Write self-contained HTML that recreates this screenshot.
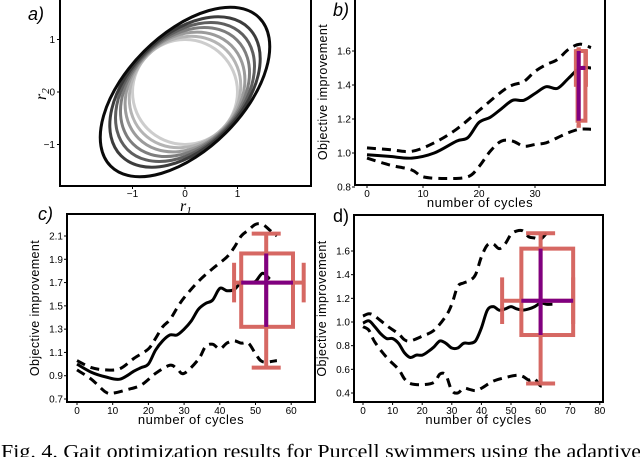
<!DOCTYPE html>
<html><head><meta charset="utf-8"><style>
body{margin:0;background:#fff;}
svg{display:block;font-family:"Liberation Sans",sans-serif;}
</style></head><body>
<svg id="s" width="640" height="457" viewBox="0 0 640 457">
<text x="1" y="458" font-family="Liberation Serif,serif" font-size="20" textLength="640" lengthAdjust="spacingAndGlyphs">Fig. 4.   Gait optimization results for Purcell swimmers using the adaptive</text>
</svg>
<script>
// ---- data ----
const ringA=[1.0,1.12,1.25,1.4,1.55,1.72,2.0];
const ringB=[1.0,1.0,1.02,1.03,1.05,1.07,1.1];
const ringGray=[205,180,155,125,95,60,10];

const bX=[0,4,8,12,16,18,20,22,24,26,28,30,32,34,36,38,40];
const bMean=[0.99,0.98,0.97,1.0,1.07,1.09,1.18,1.21,1.26,1.31,1.31,1.35,1.39,1.38,1.44,1.5,1.5];
const bUpX=[0,4,8,12,16,20,24,26,28,30,32,34,36,38,40];
const bUp=[1.03,1.02,1.01,1.06,1.14,1.25,1.36,1.4,1.42,1.48,1.52,1.55,1.61,1.64,1.62];
const bLoX=[0,4,8,10,14,18,20,22,24,26,28,30,32,34,36,38,40];
const bLo=[0.97,0.93,0.9,0.86,0.85,0.86,0.92,1.01,1.07,1.07,1.04,1.05,1.06,1.09,1.12,1.14,1.14];

const cX=[0,4,8,12,16,18,20,22,24,26,28,30,32,34,36,38,40,42,44,46,48,50,52,54];
const cMean=[1.0,0.93,0.89,0.87,0.94,0.97,1.0,1.12,1.2,1.25,1.25,1.3,1.37,1.47,1.52,1.55,1.65,1.63,1.64,1.7,1.7,1.71,1.78,1.73];
const cUpX=[0,4,8,12,16,20,22,24,26,28,30,34,38,42,44,46,48,50,52,54,56];
const cUp=[1.03,0.97,0.95,0.96,1.05,1.13,1.22,1.32,1.38,1.48,1.57,1.71,1.82,1.92,2.0,2.1,2.15,2.2,2.2,2.15,2.1];
const cLoX=[0,4,8,10,14,18,22,26,28,30,34,36,38,40,42,44,46,48,50,52,56];
const cLo=[0.95,0.87,0.76,0.75,0.78,0.82,0.92,0.99,0.96,0.92,1.04,1.15,1.17,1.13,1.18,1.2,1.18,1.18,1.09,1.02,1.03];

const dX=[0,2,4,6,8,10,12,14,16,18,20,22,24,26,28,30,32,34,36,38,40,42,44,46,48,50,52,54,56,58,60,62,64];
const dMean=[0.99,1.01,0.96,0.9,0.86,0.86,0.82,0.74,0.7,0.72,0.72,0.75,0.79,0.84,0.82,0.78,0.78,0.82,0.82,0.84,0.95,1.1,1.13,1.1,1.11,1.13,1.11,1.1,1.11,1.13,1.16,1.15,1.15];
const dUpX=[0,2,4,8,12,14,16,20,24,28,30,32,34,36,38,40,42,44,46,48,50,52,54,56,58,60,62];
const dUp=[1.05,1.07,1.05,0.97,0.9,0.85,0.84,0.88,0.93,1.05,1.15,1.3,1.33,1.35,1.4,1.55,1.65,1.66,1.62,1.66,1.74,1.77,1.77,1.72,1.71,1.7,1.75];
const dLoX=[0,2,4,8,12,14,16,20,24,26,28,30,32,34,36,38,40,44,48,52,54,56,58,60,62];
const dLo=[0.96,0.93,0.83,0.7,0.6,0.52,0.48,0.47,0.49,0.56,0.55,0.42,0.4,0.44,0.43,0.42,0.44,0.5,0.53,0.55,0.54,0.51,0.52,0.46,0.48];

// box stats: [x, q1, q3, min, max, xLo, xHi, median, boxX0, boxX1]
const bBox=[37.8,1.19,1.6,1.16,1.61,37.3,39.1,1.5,37.6,39.0];
const cBox=[53,1.32,1.95,0.97,2.12,44,63.5,1.7,46,60.5];
const dBox=[60,0.89,1.62,0.48,1.75,47,71,1.18,53.5,71];

const ticksBX=[0,10,20,30], ticksBY=[0.8,1.0,1.2,1.4,1.6];
const ticksCX=[0,10,20,30,40,50,60], ticksCY=[0.7,0.9,1.1,1.3,1.5,1.7,1.9,2.1];
const ticksDX=[0,10,20,30,40,50,60,70,80], ticksDY=[0.4,0.6,0.8,1.0,1.2,1.4,1.6];

// ---- drawing ----
const S=document.getElementById('s'), NS='http://www.w3.org/2000/svg';
function el(t,a,p){const e=document.createElementNS(NS,t);for(const k in a)e.setAttribute(k,a[k]);(p||S).appendChild(e);return e;}
function lin(d0,d1,p0,p1){return v=>p0+(v-d0)*(p1-p0)/(d1-d0);}
function smooth(pts){let d='M'+pts[0][0]+','+pts[0][1];for(let i=0;i<pts.length-1;i++){const p0=pts[Math.max(0,i-1)],p1=pts[i],p2=pts[i+1],p3=pts[Math.min(pts.length-1,i+2)];d+=' C'+(p1[0]+(p2[0]-p0[0])/6)+','+(p1[1]+(p2[1]-p0[1])/6)+' '+(p2[0]-(p3[0]-p1[0])/6)+','+(p2[1]-(p3[1]-p1[1])/6)+' '+p2[0]+','+p2[1];}return d;}

// panel a
const ga=el('g',{});


const ax=lin(0,1,185,237.5), ay=lin(0,1,92,39.5);
for(let i=0;i<ringA.length;i++){
  const c=ringGray[i];
  const e=el('ellipse',{cx:ax(0),cy:ay(0),rx:ringA[i]*52.5,ry:ringB[i]*52.5,transform:`rotate(-45 ${ax(0)} ${ay(0)})`,fill:'none',stroke:`rgb(${c},${c},${c})`,'stroke-width':3},ga);
  
  
}
el('rect',{x:60,y:-1,width:251,height:187,fill:'none',stroke:'#000','stroke-width':2},ga);
[-1,0,1].forEach(v=>{
  el('line',{x1:ax(v),x2:ax(v),y1:186,y2:189,stroke:'#000'},ga);
  const t=el('text',{x:ax(v),y:197,'font-size':10,'text-anchor':'middle'},ga);t.textContent=v<0?'\u22121':v;
  el('line',{x1:57,x2:60,y1:ay(v),y2:ay(v),stroke:'#000'},ga);
  const u=el('text',{x:55,y:ay(v)+3.5,'font-size':10,'text-anchor':'end'},ga);u.textContent=v<0?'\u22121':v;
});
const la=el('text',{x:28,y:20,'font-size':18,'font-style':'italic'},ga);la.textContent='a)';
const r1=el('text',{x:180,y:211,'font-size':16,'font-family':'Liberation Serif,serif','font-style':'italic'},ga);r1.innerHTML='r<tspan font-size="11" dy="3">1</tspan>';
const r2=el('text',{x:0,y:0,'font-size':16,'font-family':'Liberation Serif,serif','font-style':'italic',transform:'translate(46,100) rotate(-90)'},ga);r2.innerHTML='r<tspan font-size="11" dy="3">2</tspan>';

function panel(name,frame,xd,xp,yd,yp,tx,ty,series,box,label,lx,ly){
  const g=el('g',{});
  
  
  const X=lin(xd[0],xd[1],xp[0],xp[1]), Y=lin(yd[0],yd[1],yp[0],yp[1]);
  series.forEach(s=>{
    const p=el('path',{d:smooth(s.x.map((v,i)=>[X(v),Y(s.y[i])])),fill:'none',stroke:'#000','stroke-width':3,'stroke-linecap':'butt','stroke-dasharray':s.dash?'9,6':'none'},g);
    
    
  });
  const [bx,q1,q3,mn,mx,xl,xh,md,b0,b1]=box;
  const red='#d4605b', rw=4;
  const bg=el('g',{stroke:red,'stroke-width':rw,fill:'none',opacity:0.95},g);
  
  
  const capW=(X(b1)-X(b0))*0.28;
  el('rect',{x:X(b0),y:Y(q3),width:X(b1)-X(b0),height:Y(q1)-Y(q3)},bg);
  el('line',{x1:X(bx),x2:X(bx),y1:Y(mx),y2:Y(mn)},bg);
  el('line',{x1:X(bx)-capW,x2:X(bx)+capW,y1:Y(mx),y2:Y(mx)},bg);
  el('line',{x1:X(bx)-capW,x2:X(bx)+capW,y1:Y(mn),y2:Y(mn)},bg);
  el('line',{x1:X(xl),x2:X(xh),y1:Y(md),y2:Y(md)},bg);
  const ch=(Y(q1)-Y(q3))*0.27;
  el('line',{x1:X(xl),x2:X(xl),y1:Y(md)-ch,y2:Y(md)+ch},bg);
  el('line',{x1:X(xh),x2:X(xh),y1:Y(md)-ch,y2:Y(md)+ch},bg);
  const pv=el('line',{x1:X(bx),x2:X(bx),y1:Y(q3),y2:Y(q1),stroke:'#800080','stroke-width':4},g);
  
  
  const ph=el('line',{x1:X(b0),x2:X(b1),y1:Y(md),y2:Y(md),stroke:'#800080','stroke-width':4},g);
  
  
  el('rect',{x:frame[0],y:frame[1],width:frame[2]-frame[0],height:frame[3]-frame[1],fill:'none',stroke:'#000','stroke-width':2},g);
  tx.forEach(v=>{el('line',{x1:X(v),x2:X(v),y1:frame[3],y2:frame[3]+3,stroke:'#000'},g);
    const t=el('text',{x:X(v),y:frame[3]+12,'font-size':10,'text-anchor':'middle'},g);t.textContent=v;});
  ty.forEach(v=>{el('line',{x1:frame[0]-3,x2:frame[0],y1:Y(v),y2:Y(v),stroke:'#000'},g);
    const t=el('text',{x:frame[0]-4,y:Y(v)+3.5,'font-size':10,'text-anchor':'end'},g);t.textContent=v.toFixed(1);});
  const xl2=el('text',{x:(frame[0]+frame[2])/2,y:frame[3]+22,'font-size':13,'text-anchor':'middle','letter-spacing':0.5},g);xl2.textContent='number of cycles';
  
  const cy=(frame[1]+frame[3])/2, cx=frame[0]-28;
  const yl=el('text',{x:cx,y:cy,'font-size':12.5,'text-anchor':'middle','letter-spacing':0.4,transform:`rotate(-90 ${cx} ${cy})`},g);yl.textContent='Objective improvement';
  
  const l=el('text',{x:lx,y:ly,'font-size':18,'font-style':label=='d)'?'normal':'italic'},g);l.textContent=label;
}
panel('panel-b',[355,-1,605,185],[0,10],[367,423],[1.0,1.2],[153,119],ticksBX,ticksBY,
 [{x:bX,y:bMean,name:'b-mean-line'},{x:bUpX,y:bUp,dash:1,name:'b-upper-bound'},{x:bLoX,y:bLo,dash:1,name:'b-lower-bound'}],bBox,'b)',333,16);
panel('panel-c',[67,214,315,402],[0,10],[77,112.7],[0.7,2.1],[399,236],ticksCX,ticksCY,
 [{x:cX,y:cMean,name:'c-mean-line'},{x:cUpX,y:cUp,dash:1,name:'c-upper-bound'},{x:cLoX,y:cLo,dash:1,name:'c-lower-bound'}],cBox,'c)',38,220);
panel('panel-d',[354,215,603,402],[0,10],[363,392.6],[0.4,1.6],[393,251],ticksDX,ticksDY,
 [{x:dX,y:dMean,name:'d-mean-line'},{x:dUpX,y:dUp,dash:1,name:'d-upper-bound'},{x:dLoX,y:dLo,dash:1,name:'d-lower-bound'}],dBox,'d)',333,222);
</script>
</body></html>
